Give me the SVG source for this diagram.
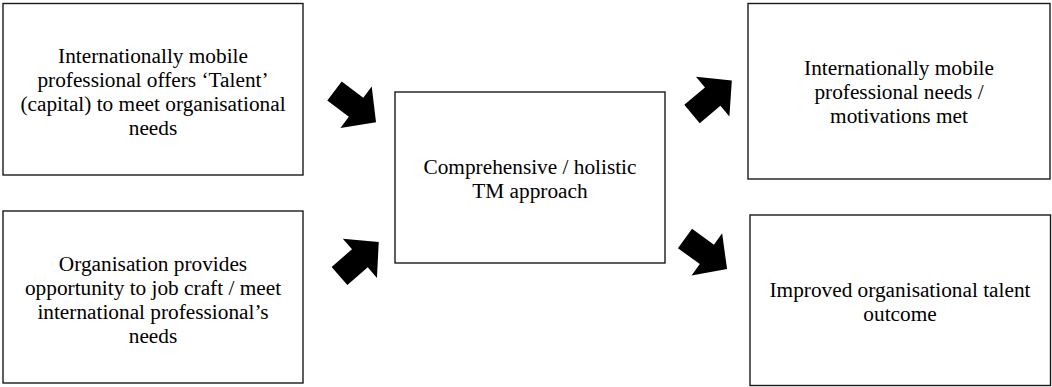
<svg xmlns="http://www.w3.org/2000/svg" xmlns:xlink="http://www.w3.org/1999/xlink" width="1052" height="387" viewBox="0 0 1052 387">
<style>
.box{fill:#fff;stroke:#1a1a1a;stroke-width:1.4}
.t{font-family:"Liberation Serif","Times New Roman",serif;font-size:21.3px;fill:#000;text-anchor:middle}
.arr{fill:#000}
</style>
<defs>
<polygon id="blk" points="0,-12 27,-12 27,-26 52,0 27,26 27,12 0,12"/>
</defs>
<rect width="1052" height="387" fill="#fff"/>
<g id="n1">
<rect class="box" x="3" y="3.5" width="300" height="171.5"/>
<text class="t"><tspan x="153" y="63">Internationally mobile</tspan><tspan x="153" y="87">professional offers ‘Talent’</tspan><tspan x="153" y="111">(capital) to meet organisational</tspan><tspan x="153" y="135">needs</tspan></text>
</g>
<g id="n2">
<rect class="box" x="3" y="211" width="300" height="172"/>
<text class="t"><tspan x="153" y="271">Organisation provides</tspan><tspan x="153" y="295">opportunity to job craft / meet</tspan><tspan x="153" y="319">international professional’s</tspan><tspan x="153" y="343">needs</tspan></text>
</g>
<g id="n3">
<rect class="box" x="395" y="92" width="270" height="171"/>
<text class="t"><tspan x="530" y="174">Comprehensive / holistic</tspan><tspan x="530" y="198">TM approach</tspan></text>
</g>
<g id="n4">
<rect class="box" x="748" y="3.5" width="302" height="175.5"/>
<text class="t"><tspan x="899" y="75">Internationally mobile</tspan><tspan x="899" y="99">professional needs /</tspan><tspan x="899" y="123">motivations met</tspan></text>
</g>
<g id="n5">
<rect class="box" x="750" y="215" width="300.5" height="170.5"/>
<text class="t"><tspan x="900" y="297">Improved organisational talent</tspan><tspan x="900" y="321">outcome</tspan></text>
</g>
<g id="connectors" class="arr">
<use xlink:href="#blk" href="#blk" transform="translate(334.5,91) rotate(37)"/>
<use xlink:href="#blk" href="#blk" transform="translate(339.5,276) rotate(-41)"/>
<use xlink:href="#blk" href="#blk" transform="translate(692,114) rotate(-40)"/>
<use xlink:href="#blk" href="#blk" transform="translate(685,238.5) rotate(36)"/>
</g>
</svg>
